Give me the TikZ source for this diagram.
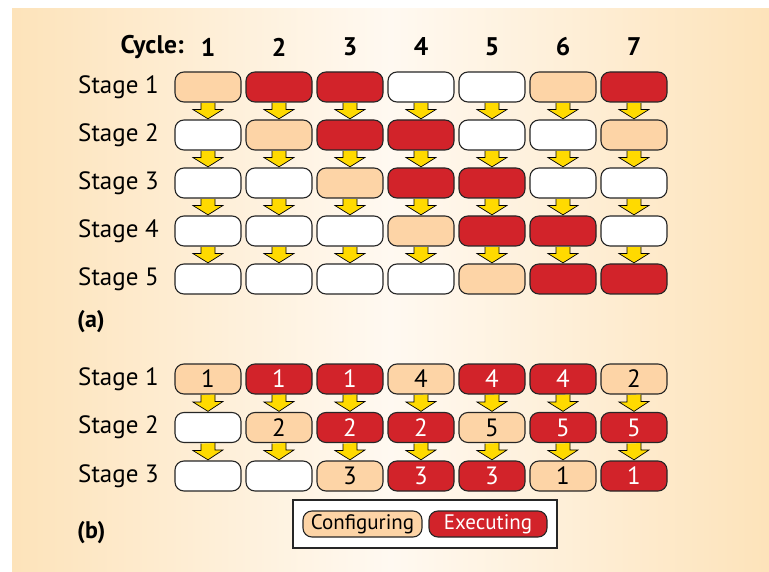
\documentclass[tikz,border=0pt]{standalone}
\usepackage{fontspec}
\setmainfont{PT Sans}
\usetikzlibrary{calc}
\definecolor{cfgtan}{HTML}{FDD4A6}
\definecolor{exred}{HTML}{D2232A}
\definecolor{yel}{HTML}{FFDA00}
\definecolor{bgtan}{HTML}{FDE3BA}
\definecolor{bgmid}{HTML}{FFF9F1}
\begin{document}
\begin{tikzpicture}[x=1pt,y=-1pt,
  cell/.style={draw=black!85, line width=1.1pt, rounded corners=9pt,
    minimum width=66pt, minimum height=30pt, inner sep=0pt,
    font=\fontsize{25}{25}\selectfont},
  stc/.style={fill=cfgtan, text=black},
  ste/.style={fill=exred, text=white},
  stw/.style={fill=white},
  yarrow/.style={fill=yel, draw=black, line width=0.7pt, line join=miter},
  stagelbl/.style={anchor=east, font=\fontsize{25}{25}\selectfont, inner sep=0pt},
  headlbl/.style={font=\fontsize{25.5}{25.5}\selectfont\bfseries, inner sep=0pt},
  leg/.style={draw=black!85, line width=1.1pt, rounded corners=9pt,
    minimum height=26pt, inner sep=0pt, font=\fontsize{21}{21}\selectfont}
]
\useasboundingbox (0,0) rectangle (769,572);
\shade[left color=bgtan, right color=bgtan, middle color=bgmid] (12,9) rectangle (769,572);

% header
\node[headlbl, anchor=east] (cyc) at (184,47) {Cycle:};
\foreach \c in {1,...,7} {
  \node[headlbl] (h\c) at ({137+71*\c},47) {\c};
}

% panel (a)
\foreach \r/\row in {1/{c,e,e,w,w,c,e},2/{w,c,e,e,w,w,c},3/{w,w,c,e,e,w,w},4/{w,w,w,c,e,e,w},5/{w,w,w,w,c,e,e}} {
  \node[stagelbl] (sa\r) at (159,{39+48*\r}) {Stage \r};
  \foreach \s [count=\c] in \row {
    \node[cell, st\s] (a-\r-\c) at ({137+71*\c},{39+48*\r}) {};
  }
}
\foreach \r in {1,...,4} {
  \pgfmathtruncatemacro\rn{\r+1}
  \foreach \c in {1,...,7} {
    \filldraw[yarrow] ($(a-\r-\c.south)+(-7,0.6)$) -- ++(0,6.4) -- ++(-8,0)
      -- ($(a-\rn-\c.north)+(0,-0.6)$) -- ++(15,-9.4) -- ++(-8,0) -- ++(0,-6.4);
  }
}
\node[headlbl, anchor=west, font=\fontsize{24}{24}\selectfont\bfseries] (la) at (77,322) {(a)};

% panel (b)
\foreach \r/\row in {1/{c/1,e/1,e/1,c/4,e/4,e/4,c/2},2/{w/{},c/2,e/2,e/2,c/5,e/5,e/5},3/{w/{},w/{},c/3,e/3,e/3,c/1,e/1}} {
  \node[stagelbl] (sb\r) at (159,{330.5+48.5*\r}) {Stage \r};
  \foreach \s/\t [count=\c] in \row {
    \node[cell, st\s] (b-\r-\c) at ({137+71*\c},{330.5+48.5*\r}) {\t};
  }
}
\foreach \r in {1,2} {
  \pgfmathtruncatemacro\rn{\r+1}
  \foreach \c in {1,...,7} {
    \filldraw[yarrow] ($(b-\r-\c.south)+(-7,0.6)$) -- ++(0,6.9) -- ++(-8,0)
      -- ($(b-\rn-\c.north)+(0,-0.6)$) -- ++(15,-9.9) -- ++(-8,0) -- ++(0,-6.9);
  }
}
\node[headlbl, anchor=west, font=\fontsize{24}{24}\selectfont\bfseries] (lb) at (77,533) {(b)};

% legend
\node[draw=black!85, line width=1.1pt, fill=white, minimum width=264pt, minimum height=48pt, inner sep=0pt] (legbox) at (425,524) {};
\node[leg, stc, minimum width=119pt] (lcfg) at (362.5,524) {Configuring};
\node[leg, ste, minimum width=118pt] (lexe) at (488,524) {Executing};
\end{tikzpicture}
\end{document}
